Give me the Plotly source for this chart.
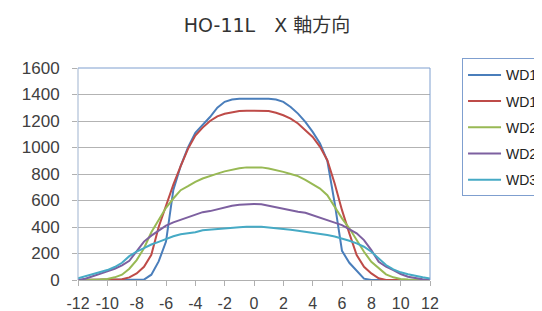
import plotly.graph_objects as go

x_vals = [i * 0.5 for i in range(-24, 25)]

wd100 = [0, 0, 0, 0, 0, 0, 0, 0, 0, 3, 40, 140, 290, 680, 860, 1000, 1110, 1170, 1230, 1300, 1345, 1362, 1368, 1368,
         1368,
         1368, 1368, 1362, 1344, 1306, 1256, 1193, 1118, 1030, 900, 580, 220, 130, 70, 10, 0, 0, 0, 0, 0, 0, 0, 0, 0]
wd150 = [0, 0, 0, 0, 0, 0, 5, 20, 50, 100, 190, 400, 560, 720, 860, 990, 1090, 1150, 1200, 1235, 1255, 1268, 1276, 1278,
         1278,
         1278, 1276, 1262, 1243, 1218, 1181, 1130, 1080, 1005, 904, 728, 527, 352, 188, 100, 50, 13, 0, 0, 0, 0, 0, 0, 0]
wd200 = [0, 0, 0, 3, 8, 20, 40, 85, 150, 240, 360, 455, 545, 615, 678, 708, 741, 766, 786, 803, 820, 833, 843, 850,
         852,
         850, 842, 830, 816, 800, 784, 755, 723, 690, 640, 553, 465, 390, 301, 213, 138, 88, 43, 20, 8, 3, 0, 0, 0]
wd250 = [0, 10, 28, 45, 65, 85, 110, 145, 220, 290, 335, 375, 410, 435, 455, 475, 495, 512, 520, 535, 550, 560, 568, 572,
         574,
         572, 560, 550, 540, 528, 515, 507, 487, 470, 452, 433, 414, 385, 352, 301, 226, 138, 100, 75, 45, 25, 13, 5, 0]
wd300 = [12, 28, 42, 58, 75, 98, 130, 180, 215, 240, 268, 288, 310, 330, 345, 350, 360, 375, 380, 388, 393, 397, 399, 401,
         402,
         401, 397, 393, 389, 380, 372, 365, 357, 348, 339, 328, 314, 296, 276, 251, 213, 163, 113, 80, 58, 43, 30, 20, 12]

series_names = ["WD100", "WD150", "WD200", "WD250", "WD300"]
series_vals = [wd100, wd150, wd200, wd250, wd300]
colors = ["#4a7ebb", "#be4b48", "#98b954", "#7d60a0", "#46aac5"]

x_ticks = list(range(-12, 13, 2))
x_tick_labels = ["-12", "-10", "-8", "-6", "-4", "-2", "0", "2", "4", "6", "8", "10", "12"]
y_ticks = list(range(0, 1601, 200))

fig = go.Figure()
for name, vals, c in zip(series_names, series_vals, colors):
    fig.add_trace(go.Scatter(x=x_vals, y=vals, mode="lines", name=name, legendgroup=name,
                             line=dict(color=c, width=2)))

fig.update_layout(
    width=600, height=303,
    margin=dict(l=70, r=178, t=60, b=31, autoexpand=False),
    paper_bgcolor="white", plot_bgcolor="white",
    font=dict(family="Liberation Sans, Arial, sans-serif", size=16, color="#404040"),
    title=dict(text="HO-11L　X 軸方向", x=259 / 600, xref="container", xanchor="center",
               y=1 - 17 / 303, yref="container", yanchor="middle",
               font=dict(family="DejaVu Sans, Noto Sans CJK JP", size=19, color="#333333")),
    showlegend=True,
    legend=dict(x=1.091, y=1.027 + 4 / 212, xanchor="left", yanchor="top",
                bordercolor="#7f9fcf", borderwidth=1, font=dict(size=14, color="#222222"),
                tracegroupgap=5, itemwidth=33),
    xaxis=dict(range=[-12, 12], tickvals=x_ticks, ticktext=x_tick_labels, showgrid=False, zeroline=False,
               ticks="outside", ticklen=5, tickcolor="#b0b0b0", ticklabelstandoff=4,
               showline=True, linecolor="#b0b0b0", linewidth=1),
    yaxis=dict(range=[0, 1600], tickvals=y_ticks, showgrid=True, gridcolor="#b3b3b3", gridwidth=1,
               zeroline=False, ticks="outside", ticklen=5, tickcolor="#b0b0b0", ticklabelstandoff=9,
               tickfont=dict(size=17), showline=False),
)
fig.add_shape(type="line", xref="paper", yref="paper", x0=0, x1=1, y0=1, y1=1,
              line=dict(color="#7f9fcf", width=1))
fig.add_shape(type="line", xref="paper", yref="paper", x0=0, x1=0, y0=0, y1=1,
              line=dict(color="#9fb3cf", width=1))
fig.add_shape(type="line", xref="paper", yref="paper", x0=1, x1=1, y0=0, y1=1,
              line=dict(color="#7f9fcf", width=1))

fig.write_html("out.html", post_script="document.body.style.overflow='hidden';")
